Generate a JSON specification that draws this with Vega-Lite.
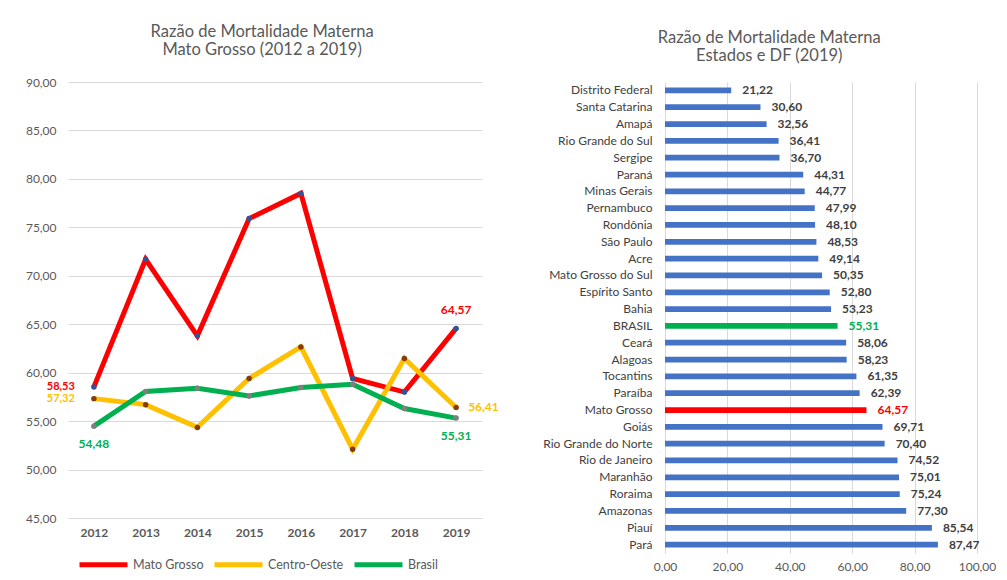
{
  "$schema": "https://vega.github.io/schema/vega-lite/v6.json",
  "background": "white",
  "padding": {"left": 25, "top": 23, "right": 0, "bottom": 0},
  "config": {
    "font": "Lato",
    "locale": {"number": {"decimal": ",", "thousands": ".", "grouping": [3], "currency": ["R$", ""]}},
    "view": {"stroke": null},
    "title": {"font": "Lato", "fontSize": 16.5, "fontWeight": "normal", "color": "#595959", "anchor": "middle", "frame": "bounds", "lineHeight": 18, "offset": 18},
    "axis": {"labelFont": "Lato", "labelColor": "#595959", "labelFontSize": 12, "domain": false, "ticks": false, "gridColor": "#d9d9d9", "title": null}
  },
  "datasets": {
    "serie": [
      {"ano": "2012", "serie": "Mato Grosso", "valor": 58.53},
      {"ano": "2013", "serie": "Mato Grosso", "valor": 71.7},
      {"ano": "2014", "serie": "Mato Grosso", "valor": 63.8},
      {"ano": "2015", "serie": "Mato Grosso", "valor": 75.9},
      {"ano": "2016", "serie": "Mato Grosso", "valor": 78.5},
      {"ano": "2017", "serie": "Mato Grosso", "valor": 59.4},
      {"ano": "2018", "serie": "Mato Grosso", "valor": 58.0},
      {"ano": "2019", "serie": "Mato Grosso", "valor": 64.57},
      {"ano": "2012", "serie": "Centro-Oeste", "valor": 57.32},
      {"ano": "2013", "serie": "Centro-Oeste", "valor": 56.7},
      {"ano": "2014", "serie": "Centro-Oeste", "valor": 54.35},
      {"ano": "2015", "serie": "Centro-Oeste", "valor": 59.4},
      {"ano": "2016", "serie": "Centro-Oeste", "valor": 62.66},
      {"ano": "2017", "serie": "Centro-Oeste", "valor": 52.1},
      {"ano": "2018", "serie": "Centro-Oeste", "valor": 61.46},
      {"ano": "2019", "serie": "Centro-Oeste", "valor": 56.41},
      {"ano": "2012", "serie": "Brasil", "valor": 54.48},
      {"ano": "2013", "serie": "Brasil", "valor": 58.06},
      {"ano": "2014", "serie": "Brasil", "valor": 58.4},
      {"ano": "2015", "serie": "Brasil", "valor": 57.6},
      {"ano": "2016", "serie": "Brasil", "valor": 58.47},
      {"ano": "2017", "serie": "Brasil", "valor": 58.8},
      {"ano": "2018", "serie": "Brasil", "valor": 56.3},
      {"ano": "2019", "serie": "Brasil", "valor": 55.31}
    ],
    "estados": [
      {"uf": "Distrito Federal", "tipo": "Estado", "valor": 21.22},
      {"uf": "Santa Catarina", "tipo": "Estado", "valor": 30.60},
      {"uf": "Amapá", "tipo": "Estado", "valor": 32.56},
      {"uf": "Rio Grande do Sul", "tipo": "Estado", "valor": 36.41},
      {"uf": "Sergipe", "tipo": "Estado", "valor": 36.70},
      {"uf": "Paraná", "tipo": "Estado", "valor": 44.31},
      {"uf": "Minas Gerais", "tipo": "Estado", "valor": 44.77},
      {"uf": "Pernambuco", "tipo": "Estado", "valor": 47.99},
      {"uf": "Rondônia", "tipo": "Estado", "valor": 48.10},
      {"uf": "São Paulo", "tipo": "Estado", "valor": 48.53},
      {"uf": "Acre", "tipo": "Estado", "valor": 49.14},
      {"uf": "Mato Grosso do Sul", "tipo": "Estado", "valor": 50.35},
      {"uf": "Espírito Santo", "tipo": "Estado", "valor": 52.80},
      {"uf": "Bahia", "tipo": "Estado", "valor": 53.23},
      {"uf": "BRASIL", "tipo": "Brasil", "valor": 55.31},
      {"uf": "Ceará", "tipo": "Estado", "valor": 58.06},
      {"uf": "Alagoas", "tipo": "Estado", "valor": 58.23},
      {"uf": "Tocantins", "tipo": "Estado", "valor": 61.35},
      {"uf": "Paraíba", "tipo": "Estado", "valor": 62.39},
      {"uf": "Mato Grosso", "tipo": "Mato Grosso", "valor": 64.57},
      {"uf": "Goiás", "tipo": "Estado", "valor": 69.71},
      {"uf": "Rio Grande do Norte", "tipo": "Estado", "valor": 70.40},
      {"uf": "Rio de Janeiro", "tipo": "Estado", "valor": 74.52},
      {"uf": "Maranhão", "tipo": "Estado", "valor": 75.01},
      {"uf": "Roraima", "tipo": "Estado", "valor": 75.24},
      {"uf": "Amazonas", "tipo": "Estado", "valor": 77.30},
      {"uf": "Piauí", "tipo": "Estado", "valor": 85.54},
      {"uf": "Pará", "tipo": "Estado", "valor": 87.47}
    ]
  },
  "hconcat": [
    {
      "title": {"text": ["Razão de Mortalidade Materna", "Mato Grosso (2012 a 2019)"]},
      "width": 414,
      "height": 436,
      "data": {"name": "serie"},
      "encoding": {
        "x": {"field": "ano", "type": "ordinal", "scale": {"type": "point", "padding": 0.5},
              "axis": {"labelAngle": 0, "labelFontWeight": "bold", "labelFontSize": 12, "labelPadding": 9, "grid": false}},
        "y": {"field": "valor", "type": "quantitative", "scale": {"domain": [45, 90], "zero": false, "nice": false},
              "axis": {"values": [45, 50, 55, 60, 65, 70, 75, 80, 85, 90], "format": ".2f", "labelPadding": 12, "grid": true}}
      },
      "layer": [
        {
          "mark": {"type": "line", "strokeWidth": 5},
          "encoding": {
            "color": {"field": "serie", "type": "nominal",
              "scale": {"domain": ["Mato Grosso", "Centro-Oeste", "Brasil"], "range": ["#ff0000", "#ffc000", "#00b050"]},
              "legend": {"orient": "bottom", "direction": "horizontal", "title": null, "symbolType": "stroke", "symbolStrokeWidth": 5, "symbolSize": 2304, "labelFontSize": 12.5, "labelColor": "#595959", "columnPadding": 0, "offset": -9, "padding": 9, "labelOffset": 3}}
          }
        },
        {
          "mark": {"type": "point", "filled": true, "size": 30, "opacity": 1},
          "encoding": {
            "color": {"field": "serie", "type": "nominal",
              "scale": {"domain": ["Mato Grosso", "Centro-Oeste", "Brasil"], "range": ["#2f5597", "#843c0c", "#7f7f7f"]},
              "legend": null}
          }
        },
        {
          "transform": [{"filter": "datum.ano == '2012' && datum.serie != 'Brasil'"}],
          "mark": {"type": "text", "align": "right", "baseline": "middle", "dx": -19, "fontWeight": "bold", "fontSize": 11},
          "encoding": {
            "text": {"field": "valor", "type": "quantitative", "format": ".2f"},
            "color": {"field": "serie", "type": "nominal", "scale": {"domain": ["Mato Grosso", "Centro-Oeste", "Brasil"], "range": ["#ff0000", "#ffc000", "#00b050"]}, "legend": null}
          }
        },
        {
          "transform": [{"filter": "datum.serie == 'Brasil' && (datum.ano == '2012' || datum.ano == '2019')"}],
          "mark": {"type": "text", "align": "center", "baseline": "middle", "dy": 18, "fontWeight": "bold", "fontSize": 12},
          "encoding": {
            "text": {"field": "valor", "type": "quantitative", "format": ".2f"},
            "color": {"field": "serie", "type": "nominal", "scale": {"domain": ["Mato Grosso", "Centro-Oeste", "Brasil"], "range": ["#ff0000", "#ffc000", "#00b050"]}, "legend": null}
          }
        },
        {
          "transform": [{"filter": "datum.serie == 'Mato Grosso' && datum.ano == '2019'"}],
          "mark": {"type": "text", "align": "center", "baseline": "middle", "dy": -18, "fontWeight": "bold", "fontSize": 12},
          "encoding": {
            "text": {"field": "valor", "type": "quantitative", "format": ".2f"},
            "color": {"field": "serie", "type": "nominal", "scale": {"domain": ["Mato Grosso", "Centro-Oeste", "Brasil"], "range": ["#ff0000", "#ffc000", "#00b050"]}, "legend": null}
          }
        },
        {
          "transform": [{"filter": "datum.serie == 'Centro-Oeste' && datum.ano == '2019'"}],
          "mark": {"type": "text", "align": "left", "baseline": "middle", "dx": 12, "fontWeight": "bold", "fontSize": 12},
          "encoding": {
            "text": {"field": "valor", "type": "quantitative", "format": ".2f"},
            "color": {"field": "serie", "type": "nominal", "scale": {"domain": ["Mato Grosso", "Centro-Oeste", "Brasil"], "range": ["#ff0000", "#ffc000", "#00b050"]}, "legend": null}
          }
        }
      ],
      "resolve": {"scale": {"color": "independent"}}
    },
    {
      "title": {"text": ["Razão de Mortalidade Materna", "Estados e DF (2019)"]},
      "width": 312,
      "height": 471,
      "data": {"name": "estados"},
      "encoding": {
        "y": {"field": "uf", "type": "nominal", "sort": null, "scale": {"paddingInner": 0.66, "paddingOuter": 0.33},
              "axis": {"labelFontSize": 12, "labelColor": "#404040", "labelPadding": 13, "grid": false}},
        "x": {"field": "valor", "type": "quantitative", "scale": {"domain": [0, 100], "nice": false},
              "axis": {"values": [0, 20, 40, 60, 80, 100], "format": ".2f", "grid": true, "labelFlush": false, "labelPadding": 8, "labelFontSize": 12}}
      },
      "layer": [
        {
          "mark": {"type": "bar"},
          "encoding": {
            "color": {"field": "tipo", "type": "nominal", "scale": {"domain": ["Estado", "Brasil", "Mato Grosso"], "range": ["#4472c4", "#00b050", "#ff0000"]}, "legend": null}
          }
        },
        {
          "mark": {"type": "text", "align": "left", "baseline": "middle", "dx": 11, "fontWeight": "bold", "fontSize": 12},
          "encoding": {
            "text": {"field": "valor", "type": "quantitative", "format": ".2f"},
            "color": {"field": "tipo", "type": "nominal", "scale": {"domain": ["Estado", "Brasil", "Mato Grosso"], "range": ["#404040", "#00b050", "#ff0000"]}, "legend": null}
          }
        }
      ],
      "resolve": {"scale": {"color": "independent"}}
    }
  ],
  "spacing": 183,
  "bounds": "flush"
}
